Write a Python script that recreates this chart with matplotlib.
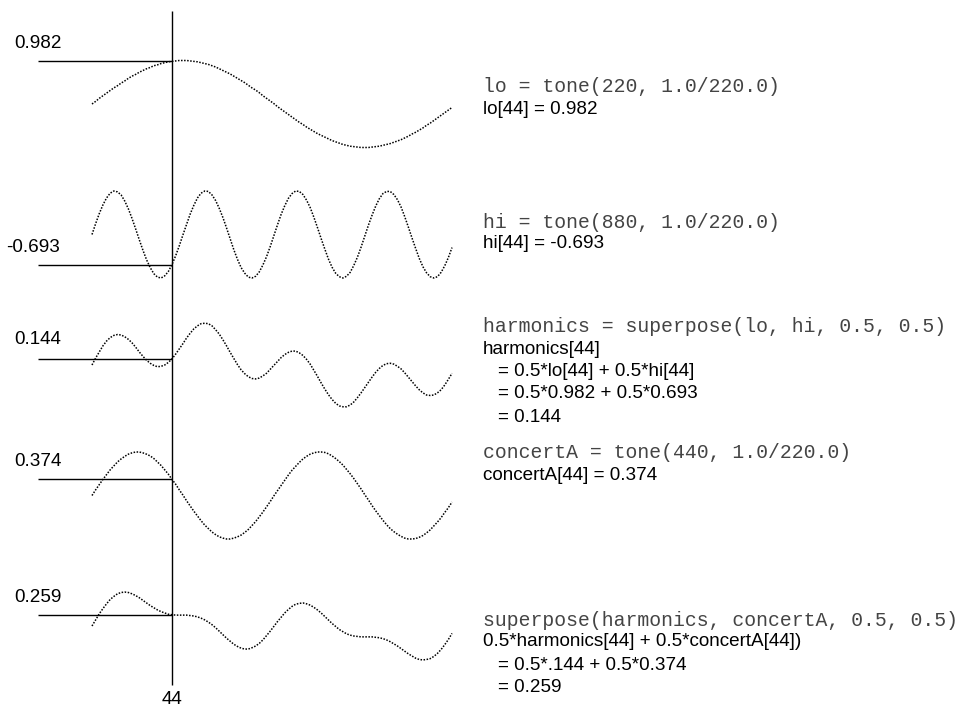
import numpy as np
import matplotlib
matplotlib.use("Agg")
import matplotlib.pyplot as plt

# sample index (every 2nd sample of the 200 drawn), values in hundredths
samples = list(range(0, 200, 2))

lo = [0, 6, 13, 19, 25, 31, 37, 42, 48, 53, 59, 64, 68, 73, 77, 81, 84, 88, 90, 93,
      95, 97, 98, 99, 100, 100, 100, 99, 98, 97, 95, 93, 91, 88, 85, 81, 77, 73, 69, 64,
      59, 54, 49, 43, 37, 32, 26, 19, 13, 7, 1, -6, -12, -18, -24, -30, -36, -42, -47, -53,
      -58, -63, -68, -72, -76, -80, -84, -87, -90, -93, -95, -97, -98, -99, -100, -100, -100, -99, -98, -97,
      -95, -93, -91, -88, -85, -82, -78, -74, -69, -65, -60, -55, -49, -44, -38, -32, -26, -20, -14, -8]

hi = [0, 25, 48, 68, 84, 95, 100, 98, 91, 77, 59, 37, 13, -12, -36, -58, -76, -90, -98, -100,
      -95, -85, -69, -49, -26, -1, 23, 47, 67, 84, 95, 100, 99, 91, 78, 60, 39, 15, -10, -35,
      -57, -76, -89, -98, -100, -96, -86, -70, -51, -28, -3, 22, 46, 66, 83, 94, 100, 99, 92, 79,
      62, 40, 16, -9, -33, -56, -75, -89, -97, -100, -96, -87, -71, -52, -29, -4, 21, 44, 65, 82,
      94, 99, 99, 92, 80, 63, 41, 17, -8, -32, -55, -74, -88, -97, -100, -97, -87, -72, -53, -30]

harmonics = [0, 16, 30, 44, 55, 63, 68, 70, 69, 65, 59, 51, 41, 30, 20, 11, 4, -1, -4, -3,
             0, 6, 14, 25, 37, 49, 62, 73, 83, 90, 95, 96, 95, 90, 81, 71, 58, 44, 29, 15,
             1, -11, -20, -27, -31, -32, -30, -25, -19, -10, -1, 8, 17, 24, 29, 32, 32, 28, 22, 13,
             2, -12, -26, -41, -55, -68, -79, -88, -94, -96, -96, -92, -85, -75, -64, -52, -40, -28, -17, -8,
             -1, 3, 4, 2, -3, -9, -18, -28, -38, -48, -57, -64, -69, -70, -69, -64, -57, -46, -33, -19]

concertA = [0, 13, 25, 37, 48, 59, 68, 77, 84, 90, 95, 98, 100, 100, 98, 95, 91, 85, 77, 69,
            59, 49, 37, 26, 13, 1, -12, -24, -36, -47, -58, -68, -76, -84, -90, -95, -98, -100, -100, -98,
            -95, -91, -85, -78, -69, -60, -49, -38, -26, -14, -1, 11, 23, 35, 47, 58, 67, 76, 84, 90,
            95, 98, 100, 100, 99, 96, 91, 85, 78, 70, 60, 50, 39, 27, 15, 2, -10, -23, -35, -46,
            -57, -67, -76, -83, -89, -94, -98, -100, -100, -99, -96, -92, -86, -79, -70, -61, -51, -39, -28, -15]

mix = [0, 14, 28, 40, 51, 61, 68, 74, 77, 78, 77, 74, 70, 65, 59, 53, 47, 42, 37, 33,
       30, 27, 26, 25, 25, 25, 25, 24, 23, 21, 18, 14, 9, 3, -4, -12, -20, -28, -35, -42,
       -47, -51, -53, -53, -50, -46, -40, -32, -22, -12, -1, 10, 20, 30, 38, 45, 50, 52, 53, 51,
       48, 43, 37, 30, 22, 14, 6, -1, -8, -13, -18, -21, -23, -24, -25, -25, -25, -25, -26, -27,
       -29, -32, -36, -41, -46, -52, -58, -64, -69, -74, -77, -78, -77, -75, -70, -63, -54, -43, -31, -17]

mark = 44
values_at_mark = [0.982, -0.693, 0.144, 0.374, 0.259]
value_labels = ["0.982", "-0.693", "0.144", "0.374", "0.259"]

W, H = 966, 707
PX_X = 80 / 44.0   # pixels per sample
PX_Y = 43.5        # pixels per unit amplitude
GAP = 3            # vertical spacing between waves

fig = plt.figure(figsize=(W / 100, H / 100), dpi=100)
ax = fig.add_axes([0, 0, 1, 1])
ax.axis("off")
ax.set_xlim(-92 / PX_X, (W - 92) / PX_X)
top = 104 / PX_Y
ax.set_ylim(top - H / PX_Y, top)

series = [lo, hi, harmonics, concertA, mix]
for k, s in enumerate(series):
    y = np.array(s) / 100.0 - GAP * k
    ax.plot(samples, y, color="black", lw=1.1, linestyle=(0, (1, 1)))
    ax.hlines(values_at_mark[k] - GAP * k, (38 - 92) / PX_X, mark, color="black", lw=1.0)
ax.vlines(mark, top - 685 / PX_Y, top - 11 / PX_Y, color="black", lw=1.0)


def t(x, y, s, **kw):
    fig.text(x / W, 1 - y / H, s, va="center", **kw)


sans = dict(family="Liberation Sans", fontsize=13.6, color="black")
mono = dict(family="Liberation Mono", fontsize=14.2, color="#444444")

# labels left of the marker
label_pos = [(14, 44), (6, 247), (14, 340), (14, 462), (14, 597)]
for (x, y), s in zip(label_pos, value_labels):
    t(x, y, s, **sans)
t(172, 700, str(mark), ha="center", **sans)

# code and arithmetic on the right
t(483, 87, "lo = tone(220, 1.0/220.0)", **mono)
t(483, 109, "lo[44] = 0.982", **sans)
t(483, 222, "hi = tone(880, 1.0/220.0)", **mono)
t(483, 244, "hi[44] = -0.693", **sans)
t(483, 327, "harmonics = superpose(lo, hi, 0.5, 0.5)", **mono)
t(483, 350, "harmonics[44]", **sans)
t(498, 372, "= 0.5*lo[44] + 0.5*hi[44]", **sans)
t(498, 394, "= 0.5*0.982 + 0.5*0.693", **sans)
t(498, 417, "= 0.144", **sans)
t(483, 452, "concertA = tone(440, 1.0/220.0)", **mono)
t(483, 475, "concertA[44] = 0.374", **sans)
t(483, 620, "superpose(harmonics, concertA, 0.5, 0.5)", **mono)
t(483, 642, "0.5*harmonics[44] + 0.5*concertA[44])", **sans)
t(498, 666, "= 0.5*.144 + 0.5*0.374", **sans)
t(498, 688, "= 0.259", **sans)

fig.savefig("out.png")
